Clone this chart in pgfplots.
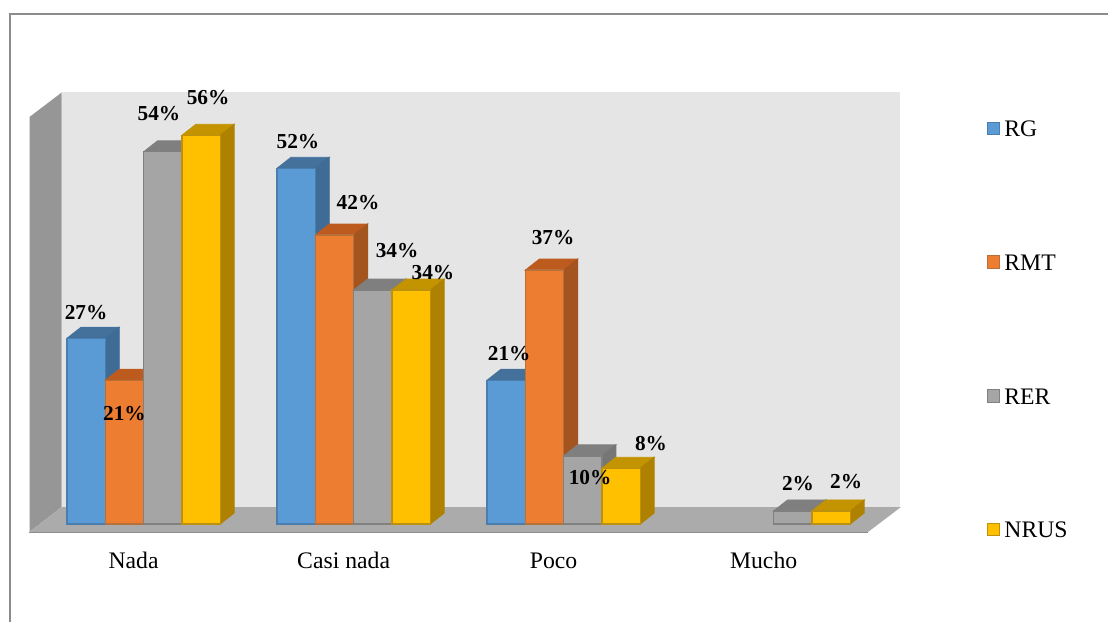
\documentclass[border=0pt]{standalone}
\usepackage{fontspec}
\setmainfont{Liberation Serif}
\usepackage{pgfplots}
\usepackage{pgfplotstable}
\pgfplotsset{compat=1.18}

\definecolor{cRG}{HTML}{5B9BD5}   \definecolor{cRGt}{HTML}{44719C}  \definecolor{cRGs}{HTML}{3F6C96}  \definecolor{cRGe}{HTML}{4A7EAE}
\definecolor{cRMT}{HTML}{ED7D31}  \definecolor{cRMTt}{HTML}{BD5B1E} \definecolor{cRMTs}{HTML}{A3541F} \definecolor{cRMTe}{HTML}{B8703A}
\definecolor{cRER}{HTML}{A5A5A5}  \definecolor{cRERt}{HTML}{7F7F7F} \definecolor{cRERs}{HTML}{767676} \definecolor{cRERe}{HTML}{808080}
\definecolor{cNRUS}{HTML}{FFC000} \definecolor{cNRUSt}{HTML}{C49300} \definecolor{cNRUSs}{HTML}{AE8200} \definecolor{cNRUSe}{HTML}{BD9010}

\newcommand{\bigfont}{\fontsize{23.7}{28}\selectfont}
\newcommand{\lblfont}{\fontsize{21.3}{25}\selectfont\bfseries}

% one table per series: category number, height in percent
\pgfplotstableread{
cat val
0 27
1 51.7
2 20.9
}\tRG
\pgfplotstableread{
cat val
0 20.9
1 42
2 36.9
}\tRMT
\pgfplotstableread{
cat val
0 54.1
1 34
2 9.9
3 1.9
}\tRER
\pgfplotstableread{
cat val
0 56.5
1 34
2 8.1
3 1.9
}\tNRUS
% label positions (x, y in axis units) and value shown
\pgfplotstableread{
x y lab
-0.274 30.81 27
-0.091 16.13 21
0.073 59.74 54
0.307 62.06 56
0.735 55.67 52
1.021 46.80 42
1.207 39.83 34
1.378 36.63 34
1.741 24.85 21
1.950 41.72 37
2.126 6.83 10
2.416 11.77 8
3.116 5.96 2
3.345 6.25 2
}\tLabels

% bar width and depth of the 3d look, in axis units
\def\bw{0.18238}
\def\dx{0.0667}
\def\dy{1.6}

% top and right faces of every bar of a series: table, bar number, top, side, edge
\newcommand{\depthfaces}[5]{%
  \pgfplotstablegetrowsof{#1}%
  \pgfmathtruncatemacro\lastrow{\pgfplotsretval-1}%
  \foreach \r in {0,...,\lastrow}{%
    \pgfplotstablegetelem{\r}{cat}\of{#1}\let\cc\pgfplotsretval
    \pgfplotstablegetelem{\r}{val}\of{#1}\let\vv\pgfplotsretval
    \pgfmathsetmacro\xa{\cc+(#2-2)*\bw}%
    \pgfmathsetmacro\xb{\xa+\bw}%
    \pgfmathsetmacro\xc{\xa+\dx}%
    \pgfmathsetmacro\xd{\xb+\dx}%
    \pgfmathsetmacro\yt{\vv+\dy}%
    \addplot[forget plot,fill=#3,draw=#3,line width=0.8pt] coordinates {(\xa,\vv) (\xc,\yt) (\xd,\yt) (\xb,\vv)} -- cycle;
    \addplot[forget plot,fill=#4,draw=#4,line width=0.8pt] coordinates {(\xb,\vv) (\xd,\yt) (\xd,\dy) (\xb,0)} -- cycle;
  }%
}

\pgfplotsset{
  front/.style={ybar,bar width=38.3pt,bar shift=#1,line width=1.3pt,
    legend image code/.code={\draw[line width=1pt,##1] (0pt,-6pt) rectangle (12.5pt,6.5pt);}},
}

\begin{document}
\begin{tikzpicture}
% chart frame, walls and floor, in pixels of the picture
\begin{scope}[x=1pt,y=-1pt,yshift=622pt]
  \fill[white] (0,0) rectangle (1108,622);
  \draw[color=black!45,line width=1.3pt] (10,622) -- (10,14) -- (1108,14);
  \fill[black!10] (61.7,92.5) rectangle (900,507);
  \fill[black!41] (29.5,117) -- (61.7,92.5) -- (61.7,507) -- (29.5,532) -- cycle;
  \fill[black!33] (29.5,532) -- (61.7,507) -- (901,507) -- (868,532) -- cycle;
  \draw[color=black!45,line width=1.5pt] (29,532.5) -- (868,532.5);
\end{scope}

\begin{axis}[
  at={(0,0)},anchor=south west,
  scale only axis,
  width=1108pt,height=622pt,
  xmin=-0.68381,xmax=4.59238,
  ymin=-14.244,ymax=76.163,
  axis line style={draw=none},
  tick style={draw=none},
  ytick=\empty,
  xtick={0,1,2,3},
  xticklabels={Nada,Casi nada,Poco,Mucho},
  x tick label style={font=\bigfont,anchor=base,xshift=-10pt,yshift=54pt},
  legend style={draw=none,fill=none,at={(0.8905,0.8065)},anchor=north west,inner sep=0pt,
    font=\bigfont,row sep=117.8pt,
    nodes={inner sep=0pt,text height=16pt,text depth=0pt},
    /tikz/every odd column/.append style={column sep=4pt}},
  legend cell align={left},
]

\depthfaces{\tRG}{0}{cRGt}{cRGs}{cRGe}
\addplot[front=-57.45pt,fill=cRG,draw=cRGe] table[x=cat,y=val] {\tRG};
\addlegendentry{RG}
\depthfaces{\tRMT}{1}{cRMTt}{cRMTs}{cRMTe}
\addplot[front=-19.15pt,fill=cRMT,draw=cRMTe] table[x=cat,y=val] {\tRMT};
\addlegendentry{RMT}
\depthfaces{\tRER}{2}{cRERt}{cRERs}{cRERe}
\addplot[front=19.15pt,fill=cRER,draw=cRERe] table[x=cat,y=val] {\tRER};
\addlegendentry{RER}
\depthfaces{\tNRUS}{3}{cNRUSt}{cNRUSs}{cNRUSe}
\addplot[front=57.45pt,fill=cNRUS,draw=cNRUSe] table[x=cat,y=val] {\tNRUS};
\addlegendentry{NRUS}

\addplot[forget plot,draw=none,mark=none,point meta=explicit symbolic,
  nodes near coords={\pgfplotspointmeta\%},
  nodes near coords style={anchor=center,font=\lblfont,inner sep=0pt,text=black,yshift=-1pt}]
  table[x=x,y=y,meta=lab] {\tLabels};

\end{axis}
\pgfresetboundingbox
\path (0,0) rectangle (1108pt,622pt);
\end{tikzpicture}
\end{document}
